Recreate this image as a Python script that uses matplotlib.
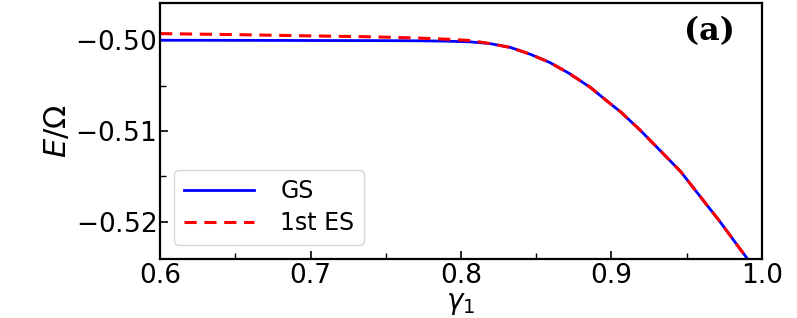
import numpy as np
import matplotlib
matplotlib.use('Agg')
import matplotlib.pyplot as plt

# data
gamma1 = [0.600, 0.650, 0.700, 0.740, 0.770, 0.790, 0.806, 0.819, 0.833,
          0.846, 0.859, 0.872, 0.886, 0.899, 0.906, 0.919, 0.932, 0.946,
          0.959, 0.972, 0.985, 0.990, 1.000]
e_gs = [-0.50000, -0.50001, -0.50003, -0.50004, -0.50006, -0.50010, -0.50018,
        -0.50036, -0.50080, -0.50154, -0.50245, -0.50366, -0.50520, -0.50696,
        -0.50788, -0.50989, -0.51209, -0.51447, -0.51722, -0.51996, -0.52289,
        -0.52399, -0.52620]
e_es = [-0.49927, -0.49938, -0.49952, -0.49962, -0.49975, -0.49988, -0.50003,
        -0.50036, -0.50080, -0.50154, -0.50245, -0.50366, -0.50520, -0.50696,
        -0.50788, -0.50989, -0.51209, -0.51447, -0.51722, -0.51996, -0.52289,
        -0.52399, -0.52620]
xticks = [0.6, 0.7, 0.8, 0.9, 1.0]
yticks = [-0.52, -0.51, -0.50]

plt.rcParams['font.family'] = 'DejaVu Sans'
plt.rcParams['mathtext.fontset'] = 'dejavusans'

fig = plt.figure(figsize=(7.97, 3.18), dpi=100)
ax = fig.add_axes([0.2008, 0.1855, 0.7552, 0.805])

ax.plot(gamma1, e_gs, color='blue', lw=2.0, label='GS')
ax.plot(gamma1, e_es, color='red', lw=2.2, ls='--', dashes=(4, 2.5), label='1st ES')

ax.set_xlim(0.6, 1.0)
ax.set_ylim(-0.5241, -0.4959)
ax.set_xticks(xticks)
ax.set_xticklabels(['%.1f' % t for t in xticks])
ax.set_yticks(yticks)
ax.set_yticklabels(['$-$%.2f' % abs(t) for t in yticks])
ax.set_xticks([0.65, 0.75, 0.85, 0.95], minor=True)
ax.set_yticks([-0.515, -0.505], minor=True)

ax.tick_params(which='major', direction='in', length=6, width=1.2, labelsize=19, pad=3)
ax.tick_params(which='minor', direction='in', length=4, width=1.0)
for s in ax.spines.values():
    s.set_linewidth(1.6)

ax.set_xlabel(r'$\gamma_1$', fontsize=20, labelpad=0)
ax.set_ylabel(r'$E/\Omega$', fontsize=22, labelpad=2)

ax.text(0.955, 0.95, '(a)', transform=ax.transAxes, ha='right', va='top',
        fontsize=23, fontweight='bold', family='DejaVu Serif')

ax.legend(loc='lower left', fontsize=17, handlelength=3.0, handletextpad=1.1,
          borderaxespad=0.6, bbox_to_anchor=(0.0, 0.0), frameon=True,
          labelspacing=0.35)

fig.savefig('out.png', dpi=100)
